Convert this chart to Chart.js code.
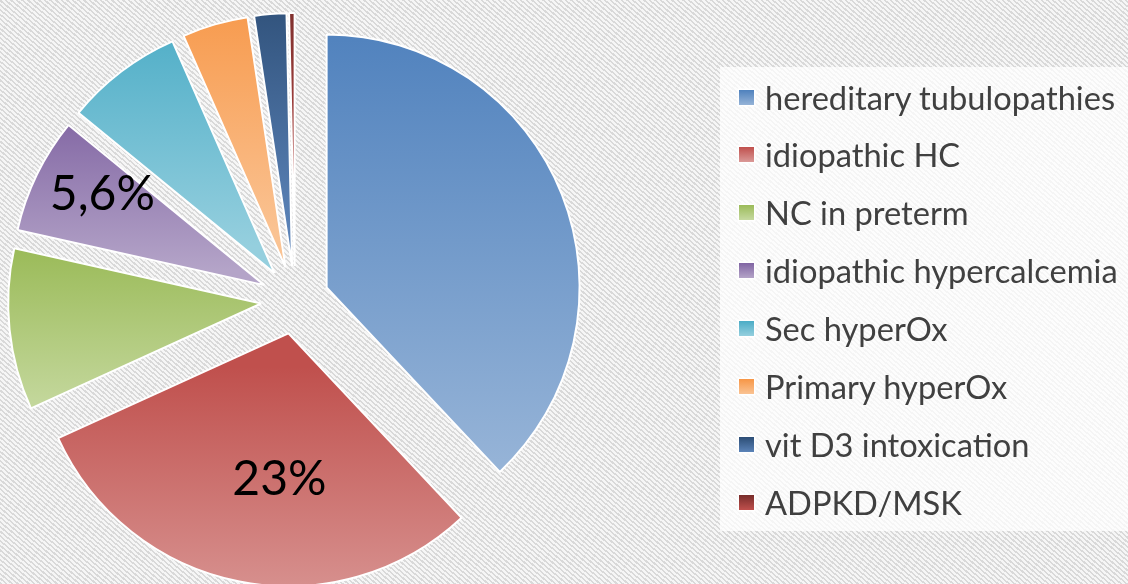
<!DOCTYPE html>
<html>
<head>
<meta charset="utf-8">
<script src="https://cdn.jsdelivr.net/npm/chart.js@4.4.1/dist/chart.umd.min.js"></script>
<style>
  html, body { margin: 0; padding: 0; }
  body {
    width: 1128px; height: 584px; overflow: hidden; position: relative;
    background: repeating-linear-gradient(40deg, #d9d9d9 0px, #d9d9d9 1.6px, #f6f6f6 1.6px, #f6f6f6 3.6px);
  }
  #wrap { position: absolute; left: 0; top: 0; width: 1128px; height: 584px; }
  #legendBox {
    position: absolute; left: 720px; top: 67px; width: 420px; height: 464px;
    background: rgba(255,255,255,0.72);
  }
  .row { position: absolute; left: 0; height: 40px; display: flex; align-items: center; white-space: nowrap; }
  .sw { width: 15px; height: 15px; margin-left: 19px; margin-right: 11px; box-shadow: 0 0 0 1.5px #ffffff; }
  .txt { font-family: Lato, 'Noto Sans', sans-serif; color: #404040; font-size: 30px; }
</style>
</head>
<body>
<div id="wrap"><canvas id="c" width="1128" height="584"></canvas></div>
<div id="legendBox"></div>
<script>
// ---- data ----
const categories = [
  'hereditary tubulopathies',
  'idiopathic HC',
  'NC in preterm',
  'idiopathic hypercalcemia',
  'Sec hyperOx',
  'Primary hyperOx',
  'vit D3 intoxication',
  'ADPKD/MSK'
];
const shares = [38.0, 30.2, 10.3, 7.4, 7.5, 4.2, 2.05, 0.35];
const labelTexts = ['', '23%', '', '5,6%', '', '', '', ''];
const topColors = ['#4f81bd', '#c0504d', '#9bbb59', '#8064a2', '#4bacc6', '#f79646', '#2c4d75', '#772c2a'];
const bottomColors = ['#95b3d7', '#da9997', '#c6d9a0', '#b4a4c8', '#95cfde', '#fac393', '#5b83b8', '#c0504d'];

// ---- layout constants ----
const R = 253;          // pie radius in px
const OFFSET = 136;     // chart.js offset option (drawn as offset/4)
const DIV = 4;
const labelPos = { 1: { f: 0.572, da: -7.6 }, 3: { f: 0.736, da: 3.6 } };

const gradPlugin = {
  id: 'gradFix',
  afterDatasetsUpdate(chart) {
    // keep every exploded slice at the same radius and true angular width
    const meta = chart.getDatasetMeta(0);
    const ctrlR = meta.controller.outerRadius;
    meta.data.forEach((arc) => {
      const o = (arc.options.offset || 0) / DIV;
      const circ = arc.circumference;
      const fix = 1 - Math.sin(Math.min(Math.PI, circ));
      const rOff = o * fix;
      arc.outerRadius = ctrlR - rOff;
      const widen = rOff / (Math.PI * ctrlR) / 2;
      arc.startAngle -= widen;
      arc.endAngle += widen;
    });
  },
  beforeDatasetsDraw(chart) {
    const ctx = chart.ctx;
    const meta = chart.getDatasetMeta(0);
    const ctrlR = meta.controller.outerRadius;
    meta.data.forEach((arc, i) => {
      const o = (arc.options.offset || 0) / DIV;
      const h = (arc.startAngle + arc.endAngle) / 2;
      const cx = arc.x + Math.cos(h) * o, cy = arc.y + Math.sin(h) * o;
      const ys = [cy, cy + ctrlR * Math.sin(arc.startAngle), cy + ctrlR * Math.sin(arc.endAngle)];
      const inc = (a) => (arc.startAngle <= a && arc.endAngle >= a);
      if (inc(Math.PI / 2)) ys.push(cy + ctrlR);
      if (inc(-Math.PI / 2) || inc(1.5 * Math.PI)) ys.push(cy - ctrlR);
      const g = ctx.createLinearGradient(0, Math.min(...ys), 0, Math.max(...ys));
      g.addColorStop(0, topColors[i]);
      g.addColorStop(1, bottomColors[i]);
      arc.options.backgroundColor = g;
    });
  },
  afterDatasetsDraw(chart) {
    const ctx = chart.ctx;
    const meta = chart.getDatasetMeta(0);
    const ctrlR = meta.controller.outerRadius;
    ctx.save();
    ctx.fillStyle = '#000000';
    ctx.font = '48px Lato, "Noto Sans", sans-serif';
    ctx.textAlign = 'center';
    ctx.textBaseline = 'alphabetic';
    meta.data.forEach((arc, i) => {
      const t = labelTexts[i];
      if (!t) return;
      const o = (arc.options.offset || 0) / DIV;
      const h = (arc.startAngle + arc.endAngle) / 2;
      const p = labelPos[i] || { f: 0.6, da: 0 };
      const ax = arc.x + Math.cos(h) * o, ay = arc.y + Math.sin(h) * o;
      const a = h + p.da * Math.PI / 180;
      const px = ax + Math.cos(a) * p.f * ctrlR;
      const py = ay + Math.sin(a) * p.f * ctrlR;
      ctx.fillText(t, px, py + 17);
    });
    ctx.restore();
  }
};

new Chart(document.getElementById('c'), {
  type: 'pie',
  data: {
    labels: categories,
    datasets: [{
      data: shares,
      backgroundColor: topColors,
      borderColor: '#ffffff',
      borderWidth: 2,
      offset: OFFSET,
      hoverOffset: OFFSET
    }]
  },
  options: {
    responsive: false,
    animation: false,
    radius: R,
    layout: { padding: { left: 0, right: 1128 - 590, top: 16, bottom: 0 } },
    events: [],
    plugins: { legend: { display: false }, tooltip: { enabled: false } }
  },
  plugins: [gradPlugin]
});

// ---- legend (built from the same arrays) ----
const box = document.getElementById('legendBox');
const mc = document.createElement('canvas').getContext('2d');
let fs = 30;
mc.font = fs + 'px Lato';
const w = mc.measureText(categories[0]).width;
fs = fs * 351 / w;
categories.forEach((name, i) => {
  const row = document.createElement('div');
  row.className = 'row';
  row.style.top = (97 - 67 + i * 57.9 - 20) + 'px';
  const sw = document.createElement('div');
  sw.className = 'sw';
  sw.style.background = `linear-gradient(${topColors[i]}, ${bottomColors[i]})`;
  const tx = document.createElement('div');
  tx.className = 'txt';
  tx.style.fontSize = fs.toFixed(2) + 'px';
  tx.textContent = name;
  row.appendChild(sw); row.appendChild(tx);
  box.appendChild(row);
});
</script>
</body>
</html>
